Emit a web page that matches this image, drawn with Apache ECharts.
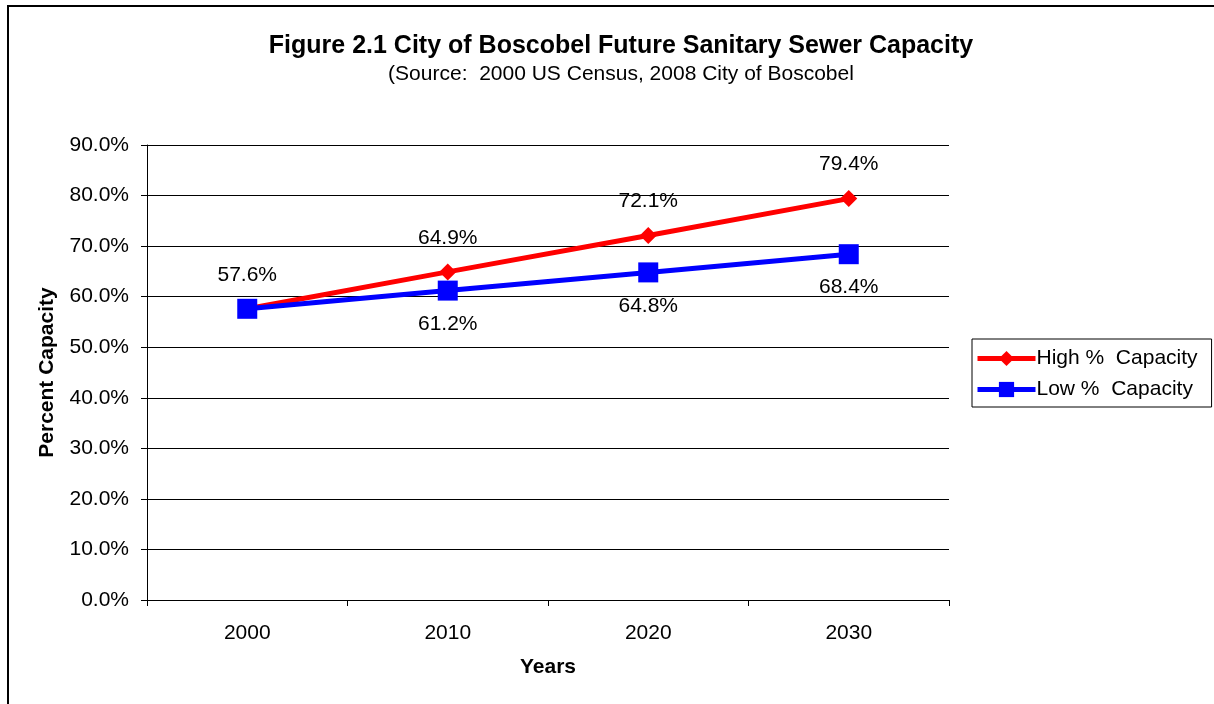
<!DOCTYPE html>
<html>
<head>
<meta charset="utf-8">
<script src="https://cdn.jsdelivr.net/npm/echarts@6/dist/echarts.min.js"></script>
<style>
  html, body { margin: 0; padding: 0; background: #fff; }
  #main { width: 1214px; height: 704px; }
</style>
</head>
<body>
<div id="main"></div>
<script>
// data
const years = ['2000', '2010', '2020', '2030'];
const highCapacity = [57.6, 64.9, 72.1, 79.4];
const lowCapacity = [57.6, 61.2, 64.8, 68.4];

const FONT = '"Liberation Sans", Arial, sans-serif';

const myChart = echarts.init(document.getElementById('main'));

myChart.setOption({
  animation       : false,
  backgroundColor : '#fff',
  textStyle       : { fontFamily: FONT, color: '#000' },
  graphic         : [{
    type  : 'rect',
    shape : { x: 8, y: 6, width: 1240, height: 740 },
    style : { fill: 'none', stroke: '#000', lineWidth: 2 },
    z     : -1,
  }],
  title: {
    text      : 'Figure 2.1 City of Boscobel Future Sanitary Sewer Capacity',
    subtext   : '(Source:  2000 US Census, 2008 City of Boscobel',
    left      : 616,
    textAlign : 'center',
    top       : 29,
    itemGap   : 5,
    textStyle : {
      fontFamily : FONT, fontSize: 25, fontWeight: 'bold', color: '#000',
    },
    subtextStyle: {
      fontFamily : FONT, fontSize: 21, color: '#000',
    },
  },
  legend: {
    orient      : 'vertical',
    left        : 972,
    top         : 339,
    padding     : [9, 14, 7, 3],
    itemGap     : 10,
    itemWidth   : 58,
    itemHeight  : 19,
    borderColor : '#000',
    borderWidth : 1,
    lineStyle   : { width: 5 },
    textStyle   : { fontFamily: FONT, fontSize: 21, color: '#000', padding: [0, 0, 0, -4] },
    data        : ['High %  Capacity', 'Low %  Capacity'],
  },
  grid: {
    left   : 147,
    right  : 265,
    top    : 145,
    bottom : 104,
  },
  xAxis: {
    type          : 'category',
    data          : years,
    boundaryGap   : true,
    name          : 'Years',
    nameLocation  : 'middle',
    nameGap       : 57,
    nameTextStyle : { fontFamily: FONT, fontSize: 21, fontWeight: 'bold', color: '#000' },
    axisLine      : { lineStyle: { color: '#000', width: 1 } },
    axisTick      : { show: true, length: 6, alignWithLabel: false, lineStyle: { color: '#000' } },
    axisLabel     : { fontFamily: FONT, fontSize: 21, color: '#000', margin: 23 },
    splitLine     : { show: false },
  },
  yAxis: {
    type          : 'value',
    min           : 0,
    max           : 90,
    interval      : 10,
    name          : 'Percent Capacity',
    nameLocation  : 'middle',
    nameGap       : 89,
    nameTextStyle : { fontFamily: FONT, fontSize: 21, fontWeight: 'bold', color: '#000' },
    axisLine      : { show: true, lineStyle: { color: '#000', width: 1 } },
    axisTick      : { show: true, length: 6, inside: false, lineStyle: { color: '#000' } },
    axisLabel     : {
      fontFamily : FONT, fontSize: 21, color: '#000', margin: 18,
      formatter  : (v) => `${v.toFixed(1)}%`,
    },
    splitLine: { show: true, lineStyle: { color: '#000', width: 1 } },
  },
  series: [{
    name       : 'High %  Capacity',
    type       : 'line',
    data       : highCapacity,
    symbol     : 'diamond',
    symbolSize : 17,
    color      : '#ff0000',
    lineStyle  : { width: 5, color: '#ff0000' },
    itemStyle  : { color: '#ff0000' },
    z          : 3,
    label      : {
      show       : true,
      position   : 'top',
      distance   : 15,
      fontFamily : FONT,
      fontSize   : 21,
      color      : '#000',
      formatter  : (p) => `${p.value.toFixed(1)}%`,
    },
  }, {
    name       : 'Low %  Capacity',
    type       : 'line',
    data       : lowCapacity,
    symbol     : 'rect',
    symbolSize : 20,
    color      : '#0000ff',
    lineStyle  : { width: 5, color: '#0000ff' },
    itemStyle  : { color: '#0000ff' },
    z          : 4,
    label      : {
      show       : true,
      position   : 'bottom',
      distance   : 13,
      fontFamily : FONT,
      fontSize   : 21,
      color      : '#000',
      formatter  : (p) => (p.dataIndex === 0 ? '' : `${p.value.toFixed(1)}%`),
    },
  }],
});
</script>
</body>
</html>
